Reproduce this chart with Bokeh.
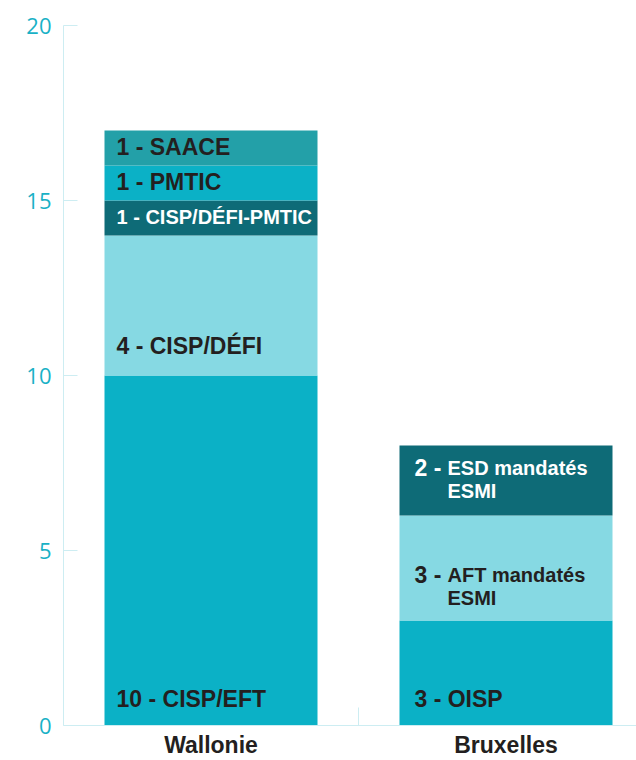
from bokeh.plotting import figure
from bokeh.models import ColumnDataSource, FixedTicker, Range1d
from bokeh.core.properties import value
from bokeh.embed import file_html
from bokeh.resources import INLINE

# ---------------- data ----------------
regions = ["Wallonie", "Bruxelles"]
wallonie_counts = [10, 4, 1, 1, 1]
wallonie_names = ["CISP/EFT", "CISP/DÉFI", "CISP/DÉFI-PMTIC", "PMTIC", "SAACE"]
bruxelles_counts = [3, 3, 2]
bruxelles_names = ["OISP", "AFT mandatés\nESMI", "ESD mandatés\nESMI"]
y_ticks = [0, 5, 10, 15, 20]

# ---------------- styles ----------------
CYAN = "#0bb1c6"
LIGHT = "#86d9e3"
DARK = "#0e6b77"
TEAL = "#23a0a8"
TXT = "#231f20"
WHITE = "#ffffff"
AXIS = "#cdedf2"
TICKTXT = "#19b1c6"

wallonie_colors = [CYAN, LIGHT, DARK, CYAN, TEAL]
bruxelles_colors = [CYAN, LIGHT, DARK]

SHIFT = -9
# (anchor, baseline offset px (screen, + = down), mode, size, colour)
wallonie_label_style = [
    ("bottom", -18, "inline", "23px", TXT),
    ("bottom", -21, "inline", "23px", TXT),
    ("mid", 7.5, "inline", "20px", WHITE),
    ("mid", 7.5, "inline", "23px", TXT),
    ("mid", 8, "inline", "23px", TXT),
]
bruxelles_label_style = [
    ("bottom", -18, "inline", "23px", TXT),
    ("bottom", -37, "split", "23px", TXT),
    ("bottom", -39, "split", "23px", WHITE),
]
region_text_x = [12, 15]
NAME_X = 48
NAME_SIZE = "20px"
LINE_GAP = 23

BAR_W = 213 / 295

p = figure(width=636, height=760, output_backend="svg", toolbar_location=None,
           x_range=Range1d(0, 573 / 295), y_range=Range1d(0, 20),
           min_border_left=63, min_border_right=0, min_border_top=25,
           min_border_bottom=35)
p.outline_line_color = None
p.xgrid.grid_line_color = None
p.ygrid.grid_line_color = None
p.background_fill_color = "white"
p.border_fill_color = "white"

bars = dict(x=[], bottom=[], top=[], color=[])
labels = dict(x=[], y=[], text=[], xo=[], yo=[], size=[], color=[])

all_counts = [wallonie_counts, bruxelles_counts]
all_names = [wallonie_names, bruxelles_names]
all_colors = [wallonie_colors, bruxelles_colors]
all_styles = [wallonie_label_style, bruxelles_label_style]

for ri, region in enumerate(regions):
    xc = ri + 0.5
    left = xc - BAR_W / 2
    bottom = 0
    for c, name, col, st in zip(all_counts[ri], all_names[ri], all_colors[ri], all_styles[ri]):
        bars["x"].append(xc)
        bars["bottom"].append(bottom)
        bars["top"].append(bottom + c)
        bars["color"].append(col)
        anchor, dy, mode, size, tcol = st
        dy += SHIFT
        ay = bottom if anchor == "bottom" else bottom + c / 2
        if mode == "inline":
            labels["x"].append(left); labels["y"].append(ay)
            labels["text"].append(f"{c} - {name.replace(chr(10), ' ')}")
            labels["xo"].append(region_text_x[ri]); labels["yo"].append(dy)
            labels["size"].append(size); labels["color"].append(tcol)
        else:
            labels["x"].append(left); labels["y"].append(ay)
            labels["text"].append(f"{c} -")
            labels["xo"].append(region_text_x[ri]); labels["yo"].append(dy)
            labels["size"].append(size); labels["color"].append(tcol)
            for li, line in enumerate(name.split("\n")):
                labels["x"].append(left); labels["y"].append(ay)
                labels["text"].append(line)
                labels["xo"].append(NAME_X); labels["yo"].append(dy + li * LINE_GAP)
                labels["size"].append(NAME_SIZE); labels["color"].append(tcol)
        bottom += c

p.vbar(x="x", bottom="bottom", top="top", width=BAR_W, fill_color="color",
       line_color=None, source=ColumnDataSource(bars))
p.text(x="x", y="y", text="text", x_offset="xo", y_offset="yo",
       text_font_size="size", text_color="color", text_font=value("Liberation Sans"),
       text_font_style="bold", text_baseline="alphabetic", text_align="left",
       source=ColumnDataSource(labels))

# x axis
xa = p.xaxis[0]
xa.ticker = FixedTicker(ticks=[i + 0.5 for i in range(len(regions))],
                        minor_ticks=[float(i) for i in range(1, len(regions))])
xa.major_label_overrides = {i + 0.5: r for i, r in enumerate(regions)}
xa.major_tick_line_color = None
xa.major_tick_in = 0
xa.major_tick_out = 0
xa.minor_tick_in = 18
xa.minor_tick_out = 0
xa.minor_tick_line_color = AXIS
xa.axis_line_color = AXIS
xa.major_label_text_font = "Liberation Sans"
xa.major_label_text_font_style = "bold"
xa.major_label_text_font_size = "23px"
xa.major_label_text_color = TXT
xa.major_label_standoff = 6

# y axis
ya = p.yaxis[0]
ya.ticker = FixedTicker(ticks=y_ticks)
ya.major_tick_in = 14
ya.major_tick_out = 0
ya.minor_tick_line_color = None
ya.major_tick_line_color = AXIS
ya.axis_line_color = AXIS
ya.major_label_text_font = "Open Sans"
ya.major_label_text_font_size = "22px"
ya.major_label_text_color = TICKTXT
ya.major_label_standoff = 12

open("out.html", "w").write(file_html(p, INLINE))
